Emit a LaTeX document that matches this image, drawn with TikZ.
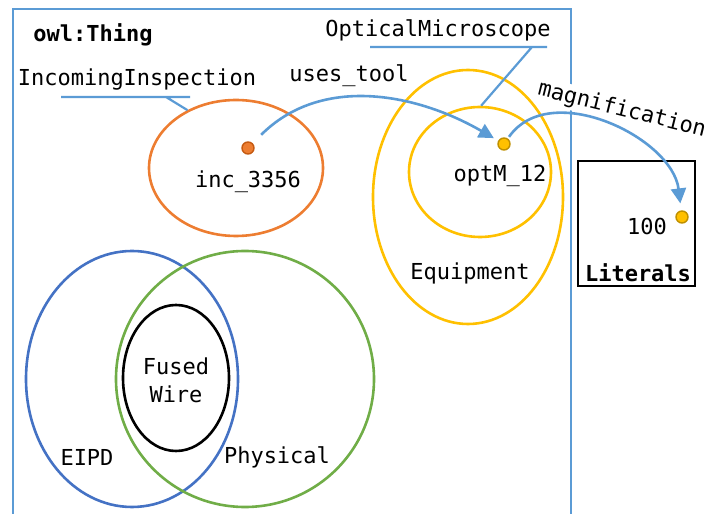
\documentclass[tikz,border=0pt]{standalone}
\usepackage{fontspec}
\setmonofont{DejaVu Sans Mono}
\usetikzlibrary{shapes,arrows.meta,calc}
\definecolor{orangec}{HTML}{ED7D31}
\definecolor{orangedk}{HTML}{C55A11}
\definecolor{yellowc}{HTML}{FFC000}
\definecolor{yellowdk}{HTML}{BF9000}
\definecolor{bluec}{HTML}{5B9BD5}
\definecolor{darkbluec}{HTML}{4472C4}
\definecolor{greenc}{HTML}{70AD47}
\tikzstyle{cls}=[ellipse,draw,line width=2.6pt,inner sep=0pt]
\tikzstyle{txt}=[font=\ttfamily\fontsize{22}{28}\selectfont,inner sep=0pt]
\tikzstyle{btxt}=[font=\ttfamily\bfseries\fontsize{22}{28}\selectfont,inner sep=0pt]
\tikzstyle{indiv}=[circle,line width=1.4pt,minimum size=12pt,inner sep=0pt]
\tikzstyle{leader}=[draw=bluec,line width=2.2pt]
\tikzstyle{rel}=[draw=bluec,line width=2.6pt,-{Triangle[length=15pt,width=15pt]}]

\begin{document}
\begin{tikzpicture}[x=1pt,y=1pt]
  \useasboundingbox (0,0) rectangle (718,514);
  % owl:Thing frame
  \draw[bluec,line width=2pt] (13,-5) -- (13,505) -- (571,505) -- (571,-5);
  \node[btxt] (thing) at (93,479) {owl:Thing};

  % classes
  \node[cls,draw=orangec,minimum width=174pt,minimum height=136pt] (incell) at (236,346) {};
  \node[cls,draw=yellowc,minimum width=190pt,minimum height=254pt] (equip) at (468,317) {};
  \node[cls,draw=yellowc,minimum width=142pt,minimum height=130pt] (microell) at (480,342) {};
  \node[cls,draw=darkbluec,minimum width=212pt,minimum height=256pt] (eipd) at (132,135) {};
  \node[cls,draw=greenc,minimum width=258pt,minimum height=256pt] (phys) at (245,135) {};
  \node[cls,draw=black,minimum width=106pt,minimum height=146pt] (fused) at (176,136) {};

  % class labels
  \node[txt] (incl) at (137,434) {IncomingInspection};
  \node[txt] (microl) at (438,484) {OpticalMicroscope};
  \node[txt] (equipl) at (470,241) {Equipment};
  \node[txt,align=center] (fusedl) at (176,134) {Fused\\Wire};
  \node[txt] (eipdl) at (87,57) {EIPD};
  \node[txt] (physl) at (277,57) {Physical};

  % leaders
  \coordinate (incA) at (61,417);
  \coordinate (incB) at (190,417);
  \coordinate (incC) at (166,417);
  \draw[leader] (incA) -- (incB) (incC) -- (incell.130);
  \coordinate (micA) at (370,467);
  \coordinate (micB) at (547,467);
  \coordinate (micC) at (532,467);
  \draw[leader] (micA) -- (micB) (micC) -- (microell.89);

  % literals
  \node[draw,line width=1.2pt,minimum width=117pt,minimum height=125pt] (lits) at (636.5,290.5) {};
  \node[btxt] (litl) at (638,241) {Literals};
  \node[txt] (val) at (647,288) {100};

  % individuals
  \node[indiv,fill=orangec,draw=orangedk] (incdot) at (248,366) {};
  \node[txt] (incname) at (248,332) {inc\_3356};
  \node[indiv,fill=yellowc,draw=yellowdk] (optdot) at (504,370) {};
  \node[txt] (optname) at (500,338) {optM\_12};
  \node[indiv,fill=yellowc,draw=yellowdk] (litdot) at (682,297) {};

  % relations
  \node[txt] (usesl) at (349,438) {uses\_tool};
  \node[txt,fill=white,inner sep=2pt,rotate=-14] (magl) at (622,404) {magnification};
  \draw[rel,shorten <=12pt,shorten >=5pt] (incdot) to[out=45,in=150] (optdot);
  \draw[rel,shorten <=2pt,shorten >=7pt] (optdot) to[out=55,in=97] (litdot);
\end{tikzpicture}
\end{document}
